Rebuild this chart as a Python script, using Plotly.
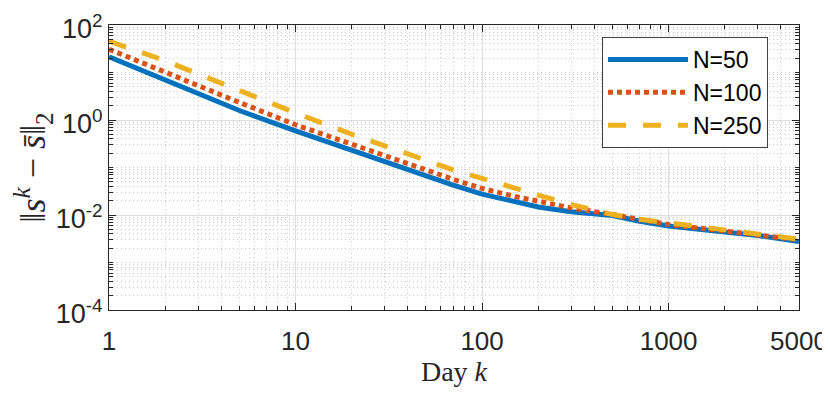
import plotly.graph_objects as go
import numpy as np

# Day k (log axis)
days = [1, 2, 3, 5, 10, 20, 30, 50, 70, 100, 150, 200, 300, 500, 700, 1000, 2000, 3000, 5000]

# log10 of ||s^k - s_bar||_2
log_n50 = [1.33, 0.85, 0.56, 0.20, -0.23, -0.64, -0.88, -1.17, -1.37, -1.56, -1.73, -1.83, -1.93,
           -2.01, -2.13, -2.23, -2.36, -2.43, -2.56]
log_n100 = [1.49, 1.00, 0.72, 0.37, -0.10, -0.52, -0.76, -1.05, -1.25, -1.44, -1.61, -1.72, -1.85,
            -1.99, -2.10, -2.20, -2.34, -2.42, -2.52]
log_n250 = [1.66, 1.25, 0.97, 0.62, 0.15, -0.30, -0.55, -0.87, -1.05, -1.23, -1.45, -1.58, -1.78,
            -1.99, -2.09, -2.17, -2.33, -2.41, -2.51]

x_ticks = [1, 10, 100, 1000, 5000]
x_labels = ['1', '10', '100', '1000', '5000']
y_ticks = [1e-4, 1e-2, 1, 1e2]
y_labels = ['10<sup>-4</sup>', '10<sup>-2</sup>', '10<sup>0</sup>', '10<sup>2</sup>']

fig = go.Figure()

fig.add_trace(go.Scatter(
    x=days, y=10 ** np.array(log_n50), mode='lines', name='N=50',
    line=dict(color='#0072BD', width=5)
))
fig.add_trace(go.Scatter(
    x=days, y=10 ** np.array(log_n100), mode='lines', name='N=100',
    line=dict(color='#D95319', width=5, dash='5px,4px')
))
fig.add_trace(go.Scatter(
    x=days, y=10 ** np.array(log_n250), mode='lines', name='N=250',
    line=dict(color='#EDB120', width=5, dash='18px,17px')
))

# minor ticks / grid at 2..9 of each decade
x_minor = [m * 10 ** e for e in range(0, 4) for m in range(2, 10) if m * 10 ** e < 5000]
y_minor = [m * 10.0 ** e for e in range(-4, 2) for m in range(1, 10) if not (m == 1 and e % 2 == 0)]

# page body has an 8px margin, so the figure is a bit smaller than the window
fig.update_layout(
    width=822, height=389,
    margin=dict(l=101, r=31, t=17, b=87, autoexpand=False),
    paper_bgcolor='white', plot_bgcolor='white',
    showlegend=True,
    legend=dict(
        x=0.7145, y=0.958, xanchor='left', yanchor='top',
        bgcolor='white', bordercolor='#404040', borderwidth=1,
        font=dict(family='Liberation Sans, Arial', size=23, color='black'),
        itemwidth=80, tracegroupgap=0
    ),
)

fig.update_xaxes(
    type='log', range=[0, np.log10(5000)], automargin=False,
    tickmode='array', tickvals=x_ticks, ticktext=x_labels, ticklabeloverflow='allow',
    tickfont=dict(family='Liberation Sans, Arial', size=26, color='#262626'),
    ticklabelstandoff=8,
    ticks='inside', ticklen=7, tickcolor='#262626',
    showline=True, linecolor='#262626', linewidth=1, mirror='ticks',
    showgrid=True, gridcolor='#dedede', gridwidth=1,
    minor=dict(tickmode='array', tickvals=x_minor, ticks='inside', ticklen=4,
               tickcolor='#262626', showgrid=True, gridcolor='#cacaca',
               griddash='1px,3px', gridwidth=1),
    title=dict(text='Day <i>k</i>', font=dict(family='Liberation Serif', size=28, color='#262626'),
               standoff=4),
    zeroline=False
)

fig.update_yaxes(
    type='log', range=[-4, 2], automargin=False,
    tickmode='array', tickvals=y_ticks, ticktext=y_labels, ticklabeloverflow='allow',
    tickfont=dict(family='Liberation Sans, Arial', size=27, color='#262626'),
    ticklabelshift=4,
    ticks='inside', ticklen=7, tickcolor='#262626',
    showline=True, linecolor='#262626', linewidth=1, mirror='ticks',
    showgrid=True, gridcolor='#dedede', gridwidth=1,
    minor=dict(tickmode='array', tickvals=y_minor, ticks='inside', ticklen=4,
               tickcolor='#262626', showgrid=True, gridcolor='#cacaca',
               griddash='1px,3px', gridwidth=1),
    title=dict(text='‖<i>s</i><sup><i>k</i></sup> − <i>s̄</i>‖<sub>2</sub>',
               font=dict(family='Liberation Serif', size=36, color='#262626'),
               standoff=10),
    zeroline=False
)

fig.write_html('out.html')
